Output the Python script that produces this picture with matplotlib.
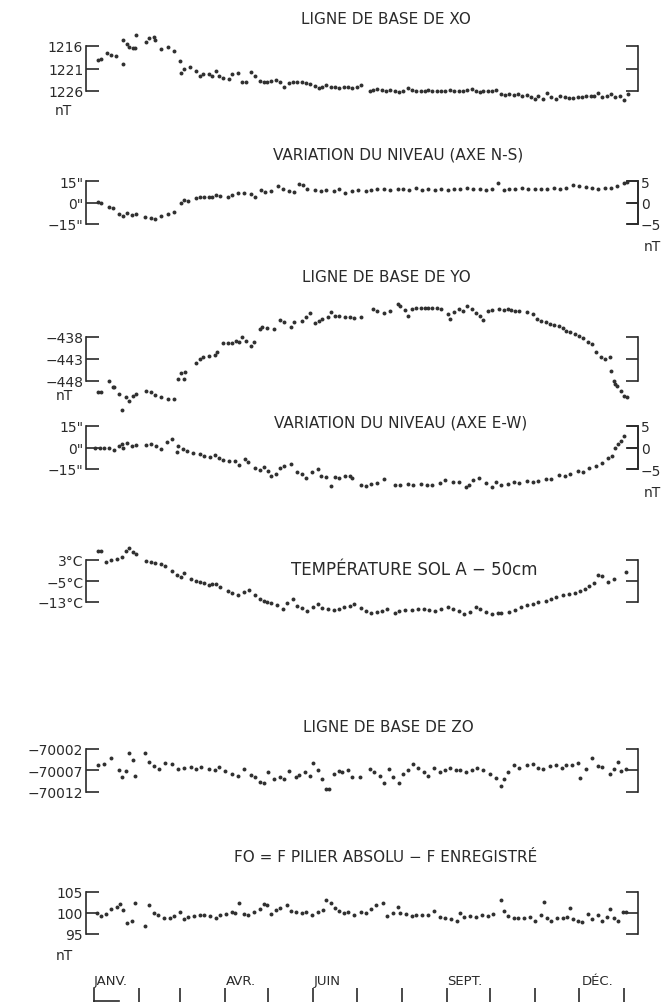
import numpy as np
import matplotlib
matplotlib.use("Agg")
import matplotlib.pyplot as plt

plt.rcParams['font.family'] = ['DejaVu Sans']

W, H = 663, 1003
INK = '#2a2a2a'

# ---- data (day of year, value) ----
xo_day = [3, 5, 9, 12, 15, 20, 20, 23, 24, 27, 28, 29, 36, 38, 41, 42, 46, 51, 55, 59,
          60, 62, 66, 70, 73, 75, 79, 81, 84, 86, 89, 93, 95, 99, 102, 105, 108, 111, 114, 117,
          119, 122, 125, 128, 131, 134, 137, 140, 143, 146, 149, 152, 155, 157, 160, 163, 166, 169, 172, 175,
          178, 181, 184, 190, 192, 195, 198, 201, 204, 207, 210, 213, 216, 219, 222, 225, 228, 230, 233, 236,
          239, 242, 245, 248, 251, 254, 257, 260, 263, 266, 268, 271, 274, 277, 280, 283, 286, 289, 292, 295,
          298, 301, 304, 306, 309, 312, 315, 318, 321, 324, 327, 330, 333, 336, 339, 342, 344, 347, 350, 353,
          356, 359, 362, 365, 368]
xo_val = [1219.1, 1218.9, 1217.6, 1218.0, 1218.3, 1220.1, 1214.6, 1215.6, 1216.3, 1216.4,
          1216.4, 1213.6, 1215.2, 1214.3, 1213.9, 1214.6, 1216.7, 1216.3, 1217.0, 1219.4,
          1222.0, 1221.1, 1220.7, 1221.5, 1222.6, 1222.2, 1222.2, 1222.7, 1221.5, 1222.6,
          1223.0, 1223.3, 1222.2, 1222.0, 1224.1, 1224.1, 1221.7, 1222.6, 1223.7, 1224.1,
          1223.9, 1223.7, 1223.5, 1223.9, 1225.0, 1224.2, 1223.9, 1223.9, 1224.1, 1224.2,
          1224.4, 1224.8, 1225.4, 1225.0, 1224.7, 1225.2, 1225.0, 1225.4, 1225.0, 1225.2,
          1225.4, 1225.0, 1224.7, 1225.9, 1225.7, 1225.6, 1225.7, 1225.9, 1225.7, 1225.9,
          1226.3, 1225.9, 1225.4, 1225.7, 1225.9, 1225.9, 1225.9, 1225.7, 1225.9, 1225.9,
          1226.1, 1225.9, 1225.8, 1226.1, 1225.9, 1225.9, 1225.7, 1225.6, 1226.1, 1226.3,
          1225.9, 1225.9, 1226.1, 1225.7, 1226.7, 1226.9, 1226.7, 1226.9, 1226.7, 1227.0,
          1226.9, 1227.4, 1227.8, 1227.0, 1227.8, 1226.4, 1227.4, 1227.8, 1227.0, 1227.4,
          1227.6, 1227.6, 1227.4, 1227.4, 1227.2, 1227.0, 1227.2, 1226.4, 1227.4, 1227.0,
          1226.7, 1227.4, 1227.0, 1228.1, 1226.7]

ns_day = [3, 5, 10, 13, 17, 20, 23, 26, 29, 35, 39, 42, 46, 51, 55, 60, 62, 65, 70, 73,
          76, 79, 81, 84, 87, 92, 95, 99, 103, 108, 111, 115, 118, 122, 127, 130, 134, 138, 141, 144,
          147, 152, 156, 160, 165, 169, 173, 178, 182, 187, 191, 195, 200, 204, 209, 213, 217, 222, 226, 230,
          235, 239, 244, 248, 252, 257, 261, 266, 270, 274, 278, 282, 286, 290, 295, 299, 304, 308, 312, 317,
          321, 325, 330, 334, 339, 343, 347, 352, 356, 360, 365, 367]
ns_val = [0.5, 0.0, -2.8, -4.1, -8.0, -9.2, -7.4, -8.7, -8.0, -9.9, -10.8, -11.5, -9.2, -8.0, -6.4, 0.0, 1.8, 1.2, 2.8, 4.1,
          3.5, 4.1, 3.5, 5.1, 4.6, 4.1, 5.1, 6.4, 6.4, 5.8, 3.5, 8.7, 7.4, 8.1, 11.5, 9.2, 8.1, 7.4, 12.7, 12.0,
          9.2, 8.7, 8.1, 8.7, 8.1, 9.7, 6.9, 8.1, 8.7, 8.1, 8.7, 9.2, 9.7, 8.7, 9.2, 9.7, 8.7, 10.4, 8.7, 9.7,
          8.7, 9.2, 8.7, 9.7, 9.2, 10.4, 9.7, 9.2, 8.7, 9.7, 13.8, 8.7, 9.7, 9.2, 10.4, 9.7, 9.2, 9.7, 9.2, 10.4,
          9.7, 10.4, 12.0, 11.5, 11.0, 10.4, 9.7, 10.4, 10.4, 11.5, 13.3, 14.3]

yo_day = [3, 5, 10, 13, 14, 17, 19, 22, 24, 27, 29, 36, 39, 42, 46, 51, 55, 58, 60, 62,
          63, 70, 73, 75, 79, 83, 85, 89, 92, 95, 98, 100, 102, 105, 108, 110, 114, 116, 119, 124,
          128, 131, 136, 138, 143, 146, 149, 152, 155, 157, 161, 163, 166, 169, 173, 176, 179, 184, 192, 195,
          200, 204, 209, 211, 214, 216, 219, 222, 225, 228, 230, 233, 236, 239, 244, 245, 248, 251, 254, 257,
          260, 263, 266, 268, 271, 274, 279, 282, 285, 287, 290, 293, 298, 302, 305, 308, 311, 314, 317, 320,
          323, 325, 328, 331, 334, 337, 340, 343, 346, 349, 352, 355, 356, 358, 359, 360, 363, 365, 367]
yo_val = [-450.6, -450.4, -447.9, -449.4, -449.4, -450.9, -454.7, -451.7, -452.5, -451.4,
          -450.9, -450.2, -450.6, -451.2, -451.7, -452.2, -452.2, -447.5, -446.2, -447.5,
          -445.9, -443.8, -443.0, -442.6, -442.4, -442.2, -441.5, -439.4, -439.4, -439.4,
          -438.8, -439.2, -438.1, -438.8, -440.1, -439.2, -436.2, -435.8, -436.0, -436.2,
          -434.1, -434.5, -435.8, -434.5, -434.3, -433.5, -432.5, -434.8, -434.3, -433.9,
          -433.5, -432.4, -433.2, -433.2, -433.5, -433.5, -433.7, -433.5, -431.6, -432.0,
          -432.5, -432.0, -430.5, -431.0, -431.8, -433.2, -431.6, -431.5, -431.5, -431.3,
          -431.3, -431.5, -431.3, -431.6, -432.8, -433.8, -432.4, -431.6, -432.2, -431.0,
          -431.6, -432.5, -433.2, -434.1, -432.0, -431.8, -431.6, -431.8, -431.6, -431.8,
          -432.0, -432.2, -432.4, -432.8, -433.9, -434.3, -434.5, -435.0, -435.3, -435.6,
          -436.0, -436.6, -436.9, -437.3, -437.8, -438.3, -439.1, -439.6, -441.3, -442.6,
          -443.0, -442.6, -445.7, -447.9, -448.7, -449.1, -450.2, -451.3, -451.7]

ew_day = [1, 4, 7, 10, 14, 17, 19, 20, 23, 26, 29, 36, 39, 43, 46, 50, 54, 57, 58, 61,
          64, 68, 73, 76, 80, 83, 86, 89, 93, 97, 100, 104, 106, 111, 114, 117, 120, 122, 125, 128,
          131, 136, 140, 143, 146, 150, 154, 156, 160, 163, 166, 169, 173, 176, 178, 184, 187, 191, 195, 200,
          207, 211, 216, 220, 225, 229, 233, 238, 242, 247, 251, 256, 258, 261, 265, 270, 274, 277, 280, 285,
          289, 293, 298, 302, 306, 311, 315, 320, 324, 328, 333, 337, 341, 346, 350, 354, 357, 359, 361, 363, 365]
ew_val = [0.0, -0.5, -0.5, 0.0, -1.6, 1.2, 2.3, 0.0, 3.0, 1.2, 1.6, 1.6, 2.3, 0.7, -1.2, 3.5, 5.8, -3.0, 1.2, -0.7,
          -2.3, -3.9, -4.6, -6.2, -6.9, -5.3, -7.6, -8.5, -9.2, -9.2, -12.2, -8.1, -9.9, -14.5, -15.5, -13.8, -16.2, -19.6, -18.5, -14.5,
          -12.7, -11.5, -17.3, -18.5, -21.5, -17.3, -15.0, -19.6, -20.8, -27.0, -20.8, -21.5, -20.1, -19.6, -21.5, -26.1, -27.0, -25.4, -24.7, -21.9,
          -26.1, -26.1, -25.4, -26.1, -25.4, -26.1, -26.1, -24.7, -22.4, -23.8, -24.2, -27.7, -26.1, -22.4, -21.5, -24.7, -27.7, -24.2, -26.1, -25.4,
          -24.2, -24.7, -23.1, -23.8, -23.1, -21.9, -21.9, -19.2, -19.6, -18.5, -16.2, -16.8, -14.5, -13.2, -10.8, -7.6, -6.2, 0.0, 2.3, 4.6, 8.1]

temp_day = [3, 5, 8, 12, 16, 19, 22, 24, 27, 29, 36, 39, 42, 46, 49, 54, 57, 60, 62, 67,
            70, 73, 76, 79, 81, 84, 87, 92, 95, 99, 103, 107, 111, 114, 117, 119, 122, 126, 130, 133,
            137, 140, 143, 147, 151, 154, 157, 161, 165, 169, 172, 176, 179, 184, 187, 191, 195, 198, 202, 207,
            210, 214, 219, 223, 227, 231, 235, 239, 244, 247, 251, 255, 259, 263, 266, 270, 274, 278, 280, 286,
            290, 294, 298, 302, 306, 311, 315, 318, 323, 327, 331, 335, 338, 341, 344, 347, 350, 354, 358, 366]
temp_val = [6.4, 6.4, 2.2, 3.0, 3.5, 4.3, 6.4, 7.7, 6.0, 5.2, 2.6, 2.2, 2.0, 1.3, 0.7, -1.2, -2.8, -3.4, -2.1, -4.1,
            -5.0, -5.4, -5.6, -6.7, -6.3, -6.3, -7.2, -8.8, -9.7, -10.5, -9.2, -8.4, -10.5, -11.7, -12.6, -13.0, -13.5, -14.3, -15.8, -13.3,
            -12.0, -14.5, -15.2, -16.4, -14.8, -13.9, -15.2, -15.8, -16.1, -15.8, -14.8, -14.5, -13.9, -15.2, -16.4, -17.1, -16.8, -16.4, -15.8, -17.1,
            -16.4, -16.1, -16.1, -15.8, -15.5, -16.1, -16.4, -15.8, -14.8, -15.5, -16.4, -17.7, -16.8, -14.8, -15.5, -16.8, -17.7, -17.3, -17.1, -16.8,
            -16.1, -14.8, -14.3, -13.9, -13.0, -12.6, -11.7, -11.0, -10.5, -10.1, -9.4, -8.8, -8.2, -6.9, -5.9, -2.8, -3.1, -5.4, -4.4, -1.6]

zo_day = [3, 7, 12, 17, 19, 22, 24, 27, 28, 35, 38, 41, 45, 49, 54, 58, 62, 67, 70, 74,
          79, 83, 86, 90, 95, 99, 103, 108, 111, 114, 117, 120, 124, 128, 131, 134, 139, 141, 145, 149,
          151, 154, 157, 160, 162, 165, 169, 171, 175, 178, 183, 190, 193, 197, 200, 203, 206, 210, 213, 216,
          220, 223, 227, 230, 234, 238, 242, 245, 249, 252, 256, 260, 264, 268, 273, 277, 280, 282, 285, 289,
          293, 298, 302, 306, 309, 314, 318, 322, 325, 329, 333, 335, 339, 343, 347, 350, 355, 358, 361, 363, 366]
zo_val = [-70005.8, -70005.4, -70004.2, -70006.8, -70008.6, -70007.2, -70003.0, -70004.6, -70008.2, -70003.0,
          -70005.0, -70006.0, -70006.6, -70005.2, -70005.4, -70006.6, -70006.4, -70006.2, -70006.6, -70006.2,
          -70006.6, -70006.8, -70006.2, -70007.2, -70007.8, -70008.2, -70006.6, -70008.0, -70008.6, -70009.6,
          -70009.8, -70007.4, -70009.0, -70008.4, -70009.0, -70007.2, -70008.4, -70008.0, -70007.4, -70008.2,
          -70005.2, -70007.0, -70009.0, -70011.4, -70011.2, -70007.8, -70007.2, -70007.4, -70007.0, -70008.4,
          -70008.4, -70006.6, -70007.4, -70008.2, -70009.8, -70006.6, -70008.4, -70009.9, -70007.8, -70007.0,
          -70005.4, -70006.4, -70007.4, -70008.2, -70006.4, -70007.4, -70006.8, -70006.4, -70007.0, -70006.8,
          -70007.4, -70006.8, -70006.4, -70006.8, -70007.8, -70008.8, -70010.7, -70009.0, -70007.4, -70005.8,
          -70006.4, -70005.8, -70005.4, -70006.4, -70006.6, -70006.0, -70005.7, -70006.4, -70005.8, -70005.7,
          -70005.2, -70008.8, -70006.6, -70004.2, -70006.0, -70006.2, -70007.8, -70006.6, -70005.0, -70007.2, -70006.6]

fo_day = [2, 5, 8, 12, 16, 18, 20, 23, 26, 28, 35, 38, 41, 44, 48, 52, 55, 59, 62, 65,
          69, 73, 76, 80, 84, 87, 91, 95, 97, 100, 103, 106, 110, 114, 117, 119, 122, 125, 128, 133,
          136, 139, 143, 146, 150, 154, 158, 160, 163, 166, 169, 172, 175, 179, 184, 187, 191, 194, 199, 202,
          206, 209, 211, 215, 219, 222, 226, 230, 234, 238, 242, 246, 250, 252, 255, 259, 263, 267, 271, 275,
          280, 282, 285, 289, 292, 296, 300, 304, 308, 310, 312, 315, 319, 323, 326, 328, 330, 333, 336, 340,
          343, 347, 350, 353, 355, 358, 361, 364, 366]
fo_val = [100.0, 99.2, 99.8, 101.0, 101.5, 102.1, 100.8, 97.7, 98.1, 102.3, 96.9, 101.8, 100.0, 99.6, 98.7, 98.8, 99.2, 100.2, 98.5, 99.0,
          99.2, 99.5, 99.6, 99.2, 98.7, 99.5, 99.8, 100.2, 100.0, 102.3, 99.8, 99.5, 100.2, 101.0, 102.1, 101.8, 99.8, 100.8, 101.2, 101.9,
          100.5, 100.2, 100.0, 100.2, 99.6, 100.2, 100.8, 103.1, 102.5, 101.2, 100.4, 100.0, 100.2, 99.6, 100.2, 100.0, 101.0, 101.8, 102.3, 99.2,
          100.0, 101.5, 100.0, 99.8, 99.2, 99.5, 99.6, 99.5, 100.4, 99.0, 98.8, 98.5, 98.2, 100.0, 99.0, 99.2, 99.0, 99.6, 99.2, 99.8,
          103.1, 100.4, 99.2, 98.7, 98.8, 98.7, 99.0, 98.2, 99.6, 102.7, 98.7, 98.1, 98.8, 98.7, 99.0, 101.3, 98.5, 98.2, 97.9, 99.8,
          98.5, 99.5, 98.1, 99.0, 101.0, 98.8, 98.2, 100.2, 100.2]

month_edges = [0, 31, 59, 90, 120, 151, 181, 212, 243, 273, 304, 334, 365]
month_labels = ['JANV.', 'AVR.', 'JUIN', 'SEPT.', 'DÉC.']
month_label_days = [0, 91, 151, 243, 336]

# ---- layout helpers (pixel coordinates of the 663x1003 page) ----
X_LEFT, X_RIGHT = 86, 638
XLIM = (-5.5, 374.6)


def px_rect(left, top, right, bottom):
    return [left / W, 1 - bottom / H, (right - left) / W, (bottom - top) / H]


def ftext(x, y, s, **kw):
    kw.setdefault('color', INK)
    fig.text(x / W, 1 - y / H, s, **kw)


fig = plt.figure(figsize=(W / 100, H / 100), dpi=100)


def panel(top, bottom, days, vals, ylim, ticks, labels, right_ticks=None, right_labels=None):
    ax = fig.add_axes(px_rect(X_LEFT, top, X_RIGHT, bottom))
    ax.patch.set_alpha(0)
    ax.set_xlim(*XLIM)
    ax.set_ylim(*ylim)
    for s in ['top', 'bottom']:
        ax.spines[s].set_visible(False)
    for s in ['left', 'right']:
        ax.spines[s].set_color(INK)
        ax.spines[s].set_linewidth(1.2)
    ax.set_xticks([])
    ax.set_yticks(ticks)
    ax.set_yticklabels(labels)
    ax.tick_params(axis='y', direction='in', length=9, width=1.2, color=INK,
                   left=True, right=True, labelsize=10, labelcolor=INK, pad=2)
    ax.scatter(days, vals, s=8, color='#303030', linewidths=0, clip_on=False, zorder=3)
    if right_ticks is not None:
        sec = ax.secondary_yaxis('right', functions=(lambda v: v / 3, lambda v: v * 3))
        sec.set_yticks(right_ticks)
        sec.set_yticklabels(right_labels)
        sec.spines['right'].set_color(INK)
        sec.spines['right'].set_linewidth(1.2)
        sec.tick_params(direction='in', length=8, width=1.2, color=INK,
                        labelsize=10, labelcolor=INK, pad=2)
    return ax


TFS = 11

# X0
panel(47, 92, xo_day, xo_val, (1226, 1216), [1216, 1221, 1226], ['1216', '1221', '1226'])
ftext(386, 20, 'LIGNE DE BASE DE XO', ha='center', va='center', fontsize=TFS)
ftext(63, 111, 'nT', ha='center', va='center', fontsize=10)

# N-S level
panel(182, 225, ns_day, ns_val, (-15, 15), [15, 0, -15], ['15"', '0"', '\u221215"'],
      right_ticks=[5, 0, -5], right_labels=['5', '0', '\u22125'])
ftext(398, 155, 'VARIATION DU NIVEAU (AXE N-S)', ha='center', va='center', fontsize=TFS)
ftext(652, 247, 'nT', ha='center', va='center', fontsize=10)

# Y0
panel(338, 382, yo_day, yo_val, (-448, -438), [-438, -443, -448],
      ['\u2212438', '\u2212443', '\u2212448'])
ftext(386, 278, 'LIGNE DE BASE DE YO', ha='center', va='center', fontsize=TFS)
ftext(64, 396, 'nT', ha='center', va='center', fontsize=10)

# E-W level
panel(427, 470, ew_day, ew_val, (-15, 15), [15, 0, -15], ['15"', '0"', '\u221215"'],
      right_ticks=[5, 0, -5], right_labels=['5', '0', '\u22125'])
ftext(401, 423, 'VARIATION DU NIVEAU (AXE E-W)', ha='center', va='center', fontsize=TFS)
ftext(652, 493, 'nT', ha='center', va='center', fontsize=10)

# soil temperature
panel(561, 603, temp_day, temp_val, (-13, 3), [3, -5, -13],
      ['3°C', '\u22125°C', '\u221213°C'])
ftext(414, 570, 'TEMPÉRATURE SOL A \u2212 50cm', ha='center', va='center', fontsize=12)

# Z0
panel(750, 793, zo_day, zo_val, (-70012, -70002), [-70002, -70007, -70012],
      ['\u221270002', '\u221270007', '\u221270012'])
ftext(388, 728, 'LIGNE DE BASE DE ZO', ha='center', va='center', fontsize=TFS)

# F0
panel(893, 935, fo_day, fo_val, (95, 105), [105, 100, 95], ['105', '100', '95'])
ftext(386, 858, 'FO = F PILIER ABSOLU \u2212 F ENREGISTRÉ', ha='center', va='center', fontsize=TFS)
ftext(64, 956, 'nT', ha='center', va='center', fontsize=10)

# month scale at the bottom
axm = fig.add_axes(px_rect(X_LEFT, 972, X_RIGHT, 1003))
axm.set_xlim(*XLIM)
axm.set_ylim(0, 1)
axm.axis('off')
axm.vlines(month_edges, 0, 0.45, color=INK, linewidth=1.2)
axm.plot([0, 17], [0.02, 0.02], color=INK, linewidth=1.2)
for d, lab in zip(month_label_days, month_labels):
    axm.text(d, 0.68, lab, ha='left', va='center', fontsize=9.5, color=INK)

fig.savefig('out.png', dpi=100, facecolor='white')
